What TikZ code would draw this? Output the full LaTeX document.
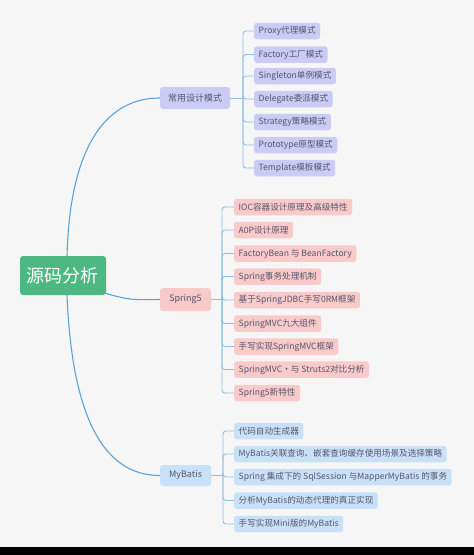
\documentclass[tikz,border=0pt]{standalone}
\usepackage{fontspec}
\setmainfont{Noto Sans CJK SC}
\definecolor{bgc}{HTML}{F6F6F6}
\definecolor{rootc}{HTML}{4DB882}
\definecolor{lav}{HTML}{CBCBF6}
\definecolor{pinkc}{HTML}{F8CACA}
\definecolor{bluec}{HTML}{C9E1F8}
\definecolor{txt}{HTML}{55566A}
\definecolor{mainline}{HTML}{5BA2D8}
\definecolor{brline}{HTML}{8DBFE0}
\tikzset{
  rootbox/.style={fill=rootc,rounded corners=3pt,text=white,font=\fontsize{18}{20}\selectfont,minimum width=86pt,minimum height=39pt,inner sep=0pt},
  midbox/.style={rounded corners=3pt,text=txt,font=\fontsize{9}{10}\selectfont,minimum height=22pt,inner sep=0pt},
  leafbox/.style={rounded corners=2.5pt,text=txt,font=\fontsize{8.6}{9}\selectfont,minimum height=16.5pt,inner xsep=4.5pt,inner ysep=0pt,anchor=west},
  lavleaf/.style={leafbox,fill=lav},
  pinkleaf/.style={leafbox,fill=pinkc},
  blueleaf/.style={leafbox,fill=bluec},
  mainconn/.style={draw=mainline,line width=1.1pt},
  brconn/.style={draw=brline,line width=0.9pt,rounded corners=3pt},
}
\begin{document}
\begin{tikzpicture}[x=1pt,y=-1pt]
\fill[bgc] (0,0) rectangle (474,555);
\fill[black] (0,547) rectangle (474,555);
\useasboundingbox (0,0) rectangle (474,555);

% root
\node[rootbox] (root) at (63,275.5) {源码分析};

% main children
\node[midbox,fill=lav,minimum width=70pt] (dp) at (195,98) {常用设计模式};
\node[midbox,fill=pinkc,minimum width=51pt,minimum height=23pt] (sp) at (185.5,299.5) {Spring5};
\node[midbox,fill=bluec,minimum width=51pt,minimum height=21pt] (mb) at (185.5,475.5) {MyBatis};

\coordinate (rt) at (67,256);
\coordinate (rb) at (67,295);
\coordinate (rr) at (104,293);
\draw[mainconn] (rt) .. controls (70,140) and (110,98) .. (dp.west);
\draw[mainconn] (rr) .. controls (130,300) .. (sp.west);
\draw[mainconn] (rb) .. controls (72,420) and (105,475.5) .. (mb.west);

% design patterns leaves
\node[lavleaf] (d1) at (254,31) {Proxy代理模式};
\node[lavleaf] (d2) at (254,54.5) {Factory工厂模式};
\node[lavleaf] (d3) at (254,76) {Singleton单例模式};
\node[lavleaf] (d4) at (254,99) {Delegate委派模式};
\node[lavleaf] (d5) at (254,122) {Strategy策略模式};
\node[lavleaf] (d6) at (254,145) {Prototype原型模式};
\node[lavleaf] (d7) at (254,168) {Template模板模式};
\coordinate (jd) at (243,98);
\draw[brconn] (dp.east) -- (jd);
\foreach \n in {d1,d2,d3,d4,d5,d6,d7} \draw[brconn] (jd) |- (\n.west);

% spring leaves
\node[pinkleaf] (s1) at (234,207) {IOC容器设计原理及高级特性};
\node[pinkleaf] (s2) at (234,230) {A0P设计原理};
\node[pinkleaf] (s3) at (234,253.5) {FactoryBean 与 BeanFactory};
\node[pinkleaf] (s4) at (234,276.5) {Spring事务处理机制};
\node[pinkleaf] (s5) at (234,300) {基于SpringJDBC手写0RM框架};
\node[pinkleaf] (s6) at (234,323.5) {SpringMVC九大组件};
\node[pinkleaf] (s7) at (234,346.5) {手写实现SpringMVC框架};
\node[pinkleaf] (s8) at (234,369.5) {SpringMVC•与 Struts2对比分析};
\node[pinkleaf] (s9) at (234,393) {Spring5新特性};
\coordinate (js) at (222,299.5);
\draw[brconn] (sp.east) -- (js);
\foreach \n in {s1,s2,s3,s4,s5,s6,s7,s8,s9} \draw[brconn] (js) |- (\n.west);

% mybatis leaves
\node[blueleaf] (m1) at (234,431) {代码自动生成器};
\node[blueleaf] (m2) at (234,454) {MyBatis关联查询、嵌套查询缓存使用场景及选择策略};
\node[blueleaf] (m3) at (234,477) {Spring 集成下的 SqlSession 与MapperMyBatis 的事务};
\node[blueleaf] (m4) at (234,500.5) {分析MyBatis的动态代理的真正实现};
\node[blueleaf] (m5) at (234,524) {手写实现Mini版的MyBatis};
\coordinate (jm) at (223,475.5);
\draw[brconn] (mb.east) -- (jm);
\foreach \n in {m1,m2,m3,m4,m5} \draw[brconn] (jm) |- (\n.west);
\end{tikzpicture}
\end{document}
